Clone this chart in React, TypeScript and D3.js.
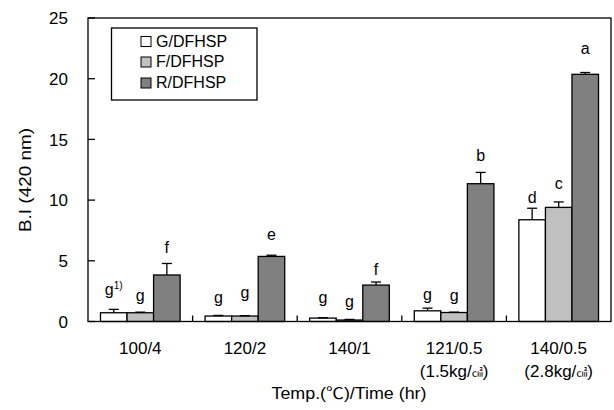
import React from "react";
import * as d3 from "d3";

const categories = ["100/4", "120/2", "140/1", "121/0.5", "140/0.5"];
const subLabels = ["", "", "", "(1.5kg/", "(2.8kg/"];
const series = ["G/DFHSP", "F/DFHSP", "R/DFHSP"];
const colors = ["#ffffff", "#c0c0c0", "#808080"];

const gValues = [0.72, 0.45, 0.28, 0.88, 8.38];
const fValues = [0.72, 0.45, 0.12, 0.74, 9.4];
const rValues = [3.83, 5.36, 3.0, 11.35, 20.36];
const gErr = [0.28, 0.05, 0.03, 0.22, 0.95];
const fErr = [0.05, 0.03, 0.05, 0.03, 0.45];
const rErr = [0.95, 0.1, 0.25, 0.93, 0.15];

const gLetters = ["g", "g", "g", "g", "d"];
const fLetters = ["g", "g", "g", "g", "c"];
const rLetters = ["f", "e", "f", "b", "a"];
const gLetterY = [2.2, 1.5, 1.5, 1.8, 9.75];
const fLetterY = [1.65, 1.9, 1.2, 1.65, 10.9];
const rLetterY = [5.65, 6.7, 3.85, 13.2, 22.05];

const yTicks = [0, 5, 10, 15, 20, 25];

const FONT = "'Liberation Sans', Arial, 'Noto Sans CJK KR', sans-serif";

export default function App() {
  const left = 88, right = 611, top = 18, bottom = 321.5;
  const y = d3.scaleLinear().domain([0, 25]).range([bottom, top]);
  const x0 = d3.scaleBand<string>().domain(categories).range([left, right]).paddingInner(0).paddingOuter(0);
  const x1 = d3.scaleBand<string>().domain(series).range([0, x0.bandwidth()]).paddingInner(0).paddingOuter(0.47);

  const values = [gValues, fValues, rValues];
  const errs = [gErr, fErr, rErr];
  const letters = [gLetters, fLetters, rLetters];
  const letterY = [gLetterY, fLetterY, rLetterY];

  const legendRows = [46.5, 67, 88];

  return (
    <svg width={614} height={410} style={{ position: "absolute", left: 0, top: 0, background: "#fff" }} fontFamily={FONT}>
      <rect x={0} y={0} width={614} height={410} fill="#fff" />
      {/* bars */}
      {categories.map((c, i) => (
        <g key={c} transform={`translate(${x0(c)},0)`}>
          {series.map((s, j) => {
            const v = values[j][i];
            const e = errs[j][i];
            const bx = x1(s)!;
            const bw = x1.bandwidth();
            const cx = bx + bw / 2;
            return (
              <g key={s}>
                <rect x={bx} y={y(v)} width={bw} height={bottom - y(v)} fill={colors[j]} stroke="#000" strokeWidth={1.3} />
                <line x1={cx} x2={cx} y1={y(v)} y2={y(v + e)} stroke="#000" strokeWidth={1.3} />
                <line x1={cx - 5} x2={cx + 5} y1={y(v + e)} y2={y(v + e)} stroke="#000" strokeWidth={1.3} />
                <text x={cx} y={y(letterY[j][i])} textAnchor="middle" fontSize={16} fill="#000">
                  {letters[j][i]}
                  {i === 0 && j === 0 ? (
                    <tspan fontSize={10} dy={-6}>1)</tspan>
                  ) : null}
                </text>
              </g>
            );
          })}
        </g>
      ))}
      {/* frame */}
      <rect x={left} y={top} width={right - left} height={bottom - top} fill="none" stroke="#000" strokeWidth={1.3} />
      {/* y ticks */}
      {yTicks.map((t) => (
        <g key={t}>
          <line x1={left} x2={left + 7} y1={y(t)} y2={y(t)} stroke="#000" strokeWidth={1.3} />
          <text x={68} y={y(t)} dy="0.36em" textAnchor="end" fontSize={17}>{t}</text>
        </g>
      ))}
      {/* x boundary ticks */}
      {categories.slice(1).map((c) => (
        <line key={c} x1={x0(c)} x2={x0(c)} y1={bottom} y2={bottom - 6} stroke="#000" strokeWidth={1.3} />
      ))}
      {/* x labels */}
      {categories.map((c, i) => {
        const cx = x0(c)! + x0.bandwidth() / 2;
        return (
          <g key={c}>
            <text x={cx} y={354} textAnchor="middle" fontSize={17}>{c}</text>
            {subLabels[i] ? (
              <text x={cx} y={377} textAnchor="middle" fontSize={17}>
                {subLabels[i]}
                <tspan fontSize={11} fontFamily="'Noto Sans CJK KR', sans-serif">㎠</tspan>
                )
              </text>
            ) : null}
          </g>
        );
      })}
      {/* axis titles */}
      <text x={349} y={399} textAnchor="middle" fontSize={16} textLength={155} lengthAdjust="spacingAndGlyphs">
        Temp.(℃)/Time (hr)
      </text>
      <text transform="translate(31,180) rotate(-90)" textAnchor="middle" fontSize={16} textLength={104} lengthAdjust="spacingAndGlyphs">
        B.I (420 nm)
      </text>
      {/* legend */}
      <rect x={111.5} y={28} width={145.5} height={72} fill="#fff" stroke="#000" strokeWidth={1.3} />
      {series.map((s, j) => (
        <g key={s}>
          <rect x={141} y={legendRows[j] - 10} width={10} height={10} fill={colors[j]} stroke="#000" strokeWidth={1} />
          <text x={156} y={legendRows[j]} fontSize={16}>{s}</text>
        </g>
      ))}
    </svg>
  );
}
